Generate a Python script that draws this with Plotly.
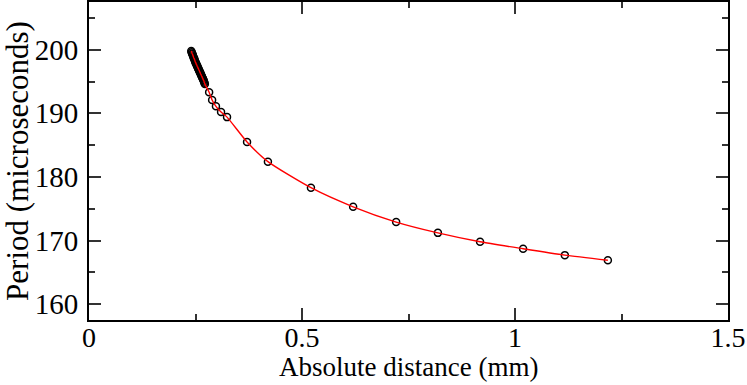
import plotly.graph_objects as go

# distance (mm) and period (microseconds)
distance_mm = [
    0.240, 0.241, 0.242, 0.243, 0.244, 0.245, 0.246, 0.247, 0.248, 0.249,
    0.250, 0.251, 0.252, 0.253, 0.254, 0.255, 0.256, 0.257, 0.258, 0.259,
    0.260, 0.261, 0.262, 0.263, 0.264, 0.265, 0.266, 0.267, 0.268, 0.269,
    0.270, 0.271, 0.272,
    0.282, 0.289, 0.298, 0.310, 0.324, 0.371, 0.420,
    0.521, 0.620, 0.721, 0.819, 0.918, 1.019, 1.117, 1.218,
]
period_us = [
    199.8, 199.6, 199.4, 199.3, 199.1, 198.9, 198.7, 198.6, 198.4, 198.2,
    198.0, 197.9, 197.7, 197.6, 197.4, 197.3, 197.1, 197.0, 196.8, 196.7,
    196.5, 196.4, 196.2, 196.1, 195.9, 195.8, 195.6, 195.5, 195.3, 195.2,
    195.0, 194.8, 194.6,
    193.3, 192.1, 191.1, 190.2, 189.4, 185.5, 182.4,
    178.3, 175.3, 172.9, 171.2, 169.8, 168.7, 167.7, 166.9,
]

x_ticks = [0, 0.5, 1, 1.5]
x_tick_labels = ["0", "0.5", "1", "1.5"]
y_ticks = [160, 170, 180, 190, 200]

FONT = "Liberation Serif, Times New Roman, serif"

fig = go.Figure()

# open circles first, the red fitted curve goes on top
fig.add_trace(go.Scatter(
    x=distance_mm,
    y=period_us,
    mode="markers",
    marker=dict(symbol="circle-open", size=7, color="black", line=dict(width=1.5, color="black")),
    showlegend=False,
))
fig.add_trace(go.Scatter(
    x=distance_mm,
    y=period_us,
    mode="lines",
    line=dict(color="#ff0000", width=1.4, shape="spline", smoothing=0.6),
    showlegend=False,
))

axis_common = dict(
    showgrid=False,
    zeroline=False,
    showline=True,
    linecolor="black",
    linewidth=2,
    mirror="allticks",
    ticks="inside",
    ticklen=12,
    tickwidth=1.5,
    tickcolor="#333333",
    automargin=False,
)

fig.update_xaxes(
    range=[0, 1.5],
    tickvals=x_ticks,
    ticktext=x_tick_labels,
    ticklabelstandoff=-9,
    tickfont=dict(family=FONT, size=28, color="black"),
    minor=dict(dtick=0.25, ticks="inside", ticklen=6, tickwidth=1.5, tickcolor="#333333"),
    **axis_common,
)
fig.update_yaxes(
    range=[157.5, 207.5],
    tickvals=y_ticks,
    ticklabelstandoff=3,
    tickfont=dict(family=FONT, size=29, color="black"),
    minor=dict(dtick=5, ticks="inside", ticklen=6, tickwidth=1.5, tickcolor="#333333"),
    title=dict(text="Period (microseconds)", font=dict(family=FONT, size=31, color="black"), standoff=12),
    **axis_common,
)

# x title as an annotation so it can sit tight under the tick labels
fig.add_annotation(
    text="Absolute distance (mm)",
    xref="paper", yref="paper",
    x=0.5, y=-0.147,
    xanchor="center", yanchor="middle",
    showarrow=False,
    borderpad=0,
    font=dict(family=FONT, size=27, color="black"),
)

fig.update_layout(
    width=747,
    height=385,
    margin=dict(l=89, r=19, t=2, b=65),
    paper_bgcolor="white",
    plot_bgcolor="white",
)

# drop the page's default body margin so the figure sits at the window corner
fig.write_html(
    "out.html",
    config={"displayModeBar": False},
    post_script="document.body.style.margin='0';",
)
